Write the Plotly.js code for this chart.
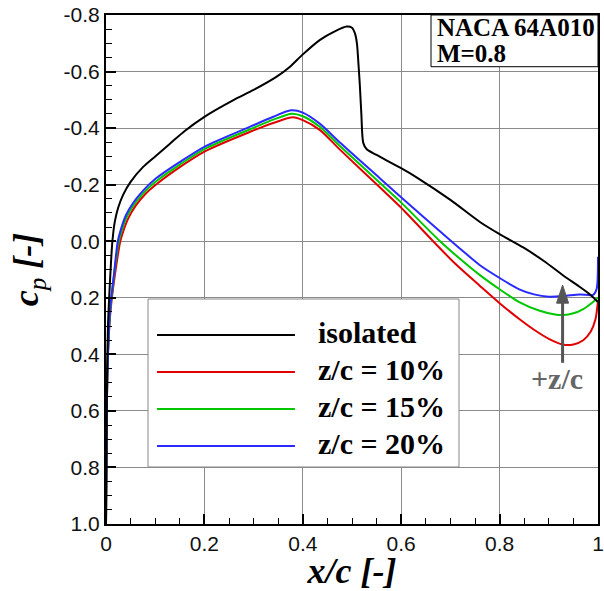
<!DOCTYPE html>
<html>
<head>
<meta charset="utf-8">
<script src="https://cdn.plot.ly/plotly-3.0.1.min.js"></script>
<style>html,body{margin:0;padding:0;background:#fff;}#chart{width:604px;height:591px;}</style>
</head>
<body>
<div id="chart"></div>
<script>
// ---- data ----
const seriesNames = ["isolated", "z/c = 10%", "z/c = 15%", "z/c = 20%"];
const seriesColors = ["#000000", "#e00000", "#00c800", "#2a2aff"];

const xIsolated = [0, 0.001, 0.002, 0.004, 0.007, 0.010, 0.013, 0.018, 0.025, 0.035, 0.050, 0.075, 0.100, 0.130, 0.160, 0.200, 0.259, 0.300, 0.347, 0.374, 0.399, 0.435, 0.465, 0.489, 0.500, 0.506, 0.510, 0.513, 0.516, 0.519, 0.523, 0.530, 0.550, 0.598, 0.632, 0.700, 0.760, 0.800, 0.848, 0.890, 0.930, 0.960, 0.985, 0.994, 1.000];
const cpIsolated = [1.00, 0.75, 0.50, 0.30, 0.18, 0.08, 0.00, -0.07, -0.12, -0.165, -0.21, -0.262, -0.300, -0.345, -0.390, -0.440, -0.499, -0.535, -0.582, -0.617, -0.659, -0.712, -0.742, -0.759, -0.755, -0.735, -0.70, -0.63, -0.55, -0.45, -0.347, -0.325, -0.305, -0.260, -0.225, -0.146, -0.068, -0.025, 0.022, 0.070, 0.122, 0.158, 0.190, 0.205, 0.215];

const xZ10 = [0, 0.001, 0.002, 0.004, 0.008, 0.012, 0.018, 0.029, 0.035, 0.045, 0.060, 0.080, 0.105, 0.150, 0.200, 0.293, 0.340, 0.380, 0.400, 0.435, 0.476, 0.557, 0.598, 0.665, 0.710, 0.760, 0.800, 0.840, 0.870, 0.900, 0.930, 0.950, 0.970, 0.985, 0.995, 1.000];
const cpZ10 = [1.00, 0.75, 0.55, 0.40, 0.27, 0.20, 0.12, 0.00, -0.035, -0.080, -0.125, -0.167, -0.205, -0.262, -0.317, -0.387, -0.418, -0.438, -0.428, -0.393, -0.323, -0.190, -0.122, 0.000, 0.080, 0.158, 0.219, 0.275, 0.313, 0.345, 0.366, 0.365, 0.350, 0.320, 0.275, 0.208];

const xZ15 = [0, 0.001, 0.002, 0.004, 0.008, 0.012, 0.017, 0.026, 0.032, 0.042, 0.057, 0.077, 0.102, 0.150, 0.200, 0.293, 0.340, 0.378, 0.400, 0.435, 0.476, 0.557, 0.598, 0.679, 0.720, 0.760, 0.800, 0.840, 0.880, 0.910, 0.930, 0.950, 0.970, 0.990, 1.000];
const cpZ15 = [1.00, 0.75, 0.55, 0.40, 0.26, 0.19, 0.11, 0.00, -0.038, -0.085, -0.130, -0.172, -0.212, -0.271, -0.326, -0.396, -0.430, -0.451, -0.442, -0.404, -0.336, -0.206, -0.140, 0.000, 0.063, 0.120, 0.170, 0.215, 0.245, 0.258, 0.261, 0.255, 0.240, 0.215, 0.200];

const xZ20 = [0, 0.001, 0.002, 0.004, 0.008, 0.012, 0.016, 0.024, 0.030, 0.040, 0.055, 0.075, 0.100, 0.150, 0.200, 0.293, 0.340, 0.376, 0.400, 0.435, 0.476, 0.557, 0.598, 0.699, 0.730, 0.760, 0.800, 0.840, 0.870, 0.900, 0.930, 0.963, 0.990, 0.997, 1.000];
const cpZ20 = [1.00, 0.75, 0.55, 0.40, 0.25, 0.18, 0.12, 0.00, -0.040, -0.090, -0.135, -0.178, -0.220, -0.280, -0.334, -0.405, -0.440, -0.463, -0.455, -0.415, -0.348, -0.222, -0.158, -0.004, 0.042, 0.085, 0.130, 0.170, 0.188, 0.196, 0.194, 0.188, 0.190, 0.170, 0.055];

const xTickVals = [0, 0.2, 0.4, 0.6, 0.8, 1];
const xTickText = ["0", "0.2", "0.4", "0.6", "0.8", "1"];
const yTickVals = [-0.8, -0.6, -0.4, -0.2, 0, 0.2, 0.4, 0.6, 0.8, 1.0];
const yTickText = ["-0.8", "-0.6", "-0.4", "-0.2", "0.0", "0.2", "0.4", "0.6", "0.8", "1.0"];

const infoLines = ["NACA 64A010", "M=0.8"];
const arrowLabel = "+z/c";
const arrowX = 0.928, arrowTip = 0.155, arrowTail = 0.43;

// ---- traces ----
const xs = [xIsolated, xZ10, xZ15, xZ20];
const ys = [cpIsolated, cpZ10, cpZ15, cpZ20];
const traces = xs.map((x, i) => ({
  x: x, y: ys[i], type: "scatter", mode: "lines", name: seriesNames[i],
  line: {color: seriesColors[i], width: 2, shape: "spline", smoothing: 0.8},
  showlegend: false
}));
traces.push(traces.shift()); // isolated on top

const serif = "Liberation Serif, Times New Roman, serif";
const sans = "Liberation Sans, Arial, sans-serif";

const shapes = [];
const annotations = [];

// manual legend (paper coordinates)
const legX0 = 0.0854, legX1 = 0.7175, legY0 = 0.112, legY1 = 0.442;
shapes.push({type: "rect", xref: "paper", yref: "paper", x0: legX0, x1: legX1, y0: legY0, y1: legY1,
  fillcolor: "#ffffff", line: {color: "#888888", width: 1}, layer: "above"});
const rowY = [0.3713, 0.2986, 0.2259, 0.1532];
seriesNames.forEach((n, i) => {
  shapes.push({type: "line", xref: "paper", yref: "paper", x0: 0.1037, x1: 0.384, y0: rowY[i], y1: rowY[i],
    line: {color: seriesColors[i], width: 2}, layer: "above"});
  annotations.push({xref: "paper", yref: "paper", x: 0.427, y: rowY[i] + 0.004, xanchor: "left", yanchor: "middle",
    text: "<b>" + n + "</b>", showarrow: false, font: {family: serif, size: 30, color: "#000"}});
});

// info box
shapes.push({type: "rect", xref: "paper", yref: "paper", x0: 0.6606, x1: 1.0, y0: 0.8984, y1: 1.0,
  fillcolor: "#ffffff", line: {color: "#000000", width: 1}, layer: "above"});
annotations.push({xref: "paper", yref: "paper", x: 0.668, y: 0.9745, xanchor: "left", yanchor: "middle",
  text: "<b>" + infoLines[0] + "</b>", showarrow: false, font: {family: serif, size: 25, color: "#000"}});
annotations.push({xref: "paper", yref: "paper", x: 0.668, y: 0.9245, xanchor: "left", yanchor: "middle",
  text: "<b>" + infoLines[1] + "</b>", showarrow: false, font: {family: serif, size: 25, color: "#000"}});

// arrow: shaft + triangular head (data coordinates)
const headH = 0.064, headW = 0.0122;
shapes.push({type: "line", xref: "x", yref: "y", x0: arrowX, x1: arrowX, y0: arrowTail, y1: arrowTip + headH * 0.8,
  line: {color: "#555555", width: 3}, layer: "above"});
shapes.push({type: "path", xref: "x", yref: "y",
  path: "M" + arrowX + "," + arrowTip + " L" + (arrowX - headW) + "," + (arrowTip + headH) +
        " L" + (arrowX + headW) + "," + (arrowTip + headH) + " Z",
  fillcolor: "#555555", line: {color: "#555555", width: 1}, layer: "above"});
annotations.push({x: 0.917, y: 0.484, xref: "x", yref: "y", xanchor: "center", yanchor: "middle",
  text: "<b>" + arrowLabel + "</b>", showarrow: false, font: {family: serif, size: 30, color: "#666666"}});

const axisCommon = {
  showline: true, linecolor: "#000", linewidth: 2, mirror: true,
  ticks: "inside", ticklen: 10, tickwidth: 2, tickcolor: "#000",
  showgrid: true, gridcolor: "#8a8a8a", gridwidth: 1, zeroline: false,
  tickfont: {family: sans, size: 21, color: "#111"},
  minor: {dtick: 0.05, ticks: "inside", ticklen: 6, tickwidth: 1, tickcolor: "#000", showgrid: false}
};

const layout = {
  width: 604, height: 591,
  margin: {l: 106, r: 6, t: 15, b: 67},
  paper_bgcolor: "#fff", plot_bgcolor: "#fff",
  xaxis: Object.assign({}, axisCommon, {
    range: [0, 1], tickmode: "array", tickvals: xTickVals, ticktext: xTickText,
    title: {text: "<b><i>x/c [-]</i></b>", font: {family: serif, size: 36, color: "#000"}, standoff: 4}
  }),
  yaxis: Object.assign({}, axisCommon, {
    range: [1.0, -0.8], tickmode: "array", tickvals: yTickVals, ticktext: yTickText,
    title: {text: "<b><i>c</i></b><sub><i>p</i></sub><b><i> [-]</i></b>", font: {family: serif, size: 36, color: "#000"}, standoff: 14}
  }),
  shapes: shapes,
  annotations: annotations,
  showlegend: false
};

Plotly.newPlot("chart", traces, layout, {staticPlot: true, displayModeBar: false});
</script>
</body>
</html>
